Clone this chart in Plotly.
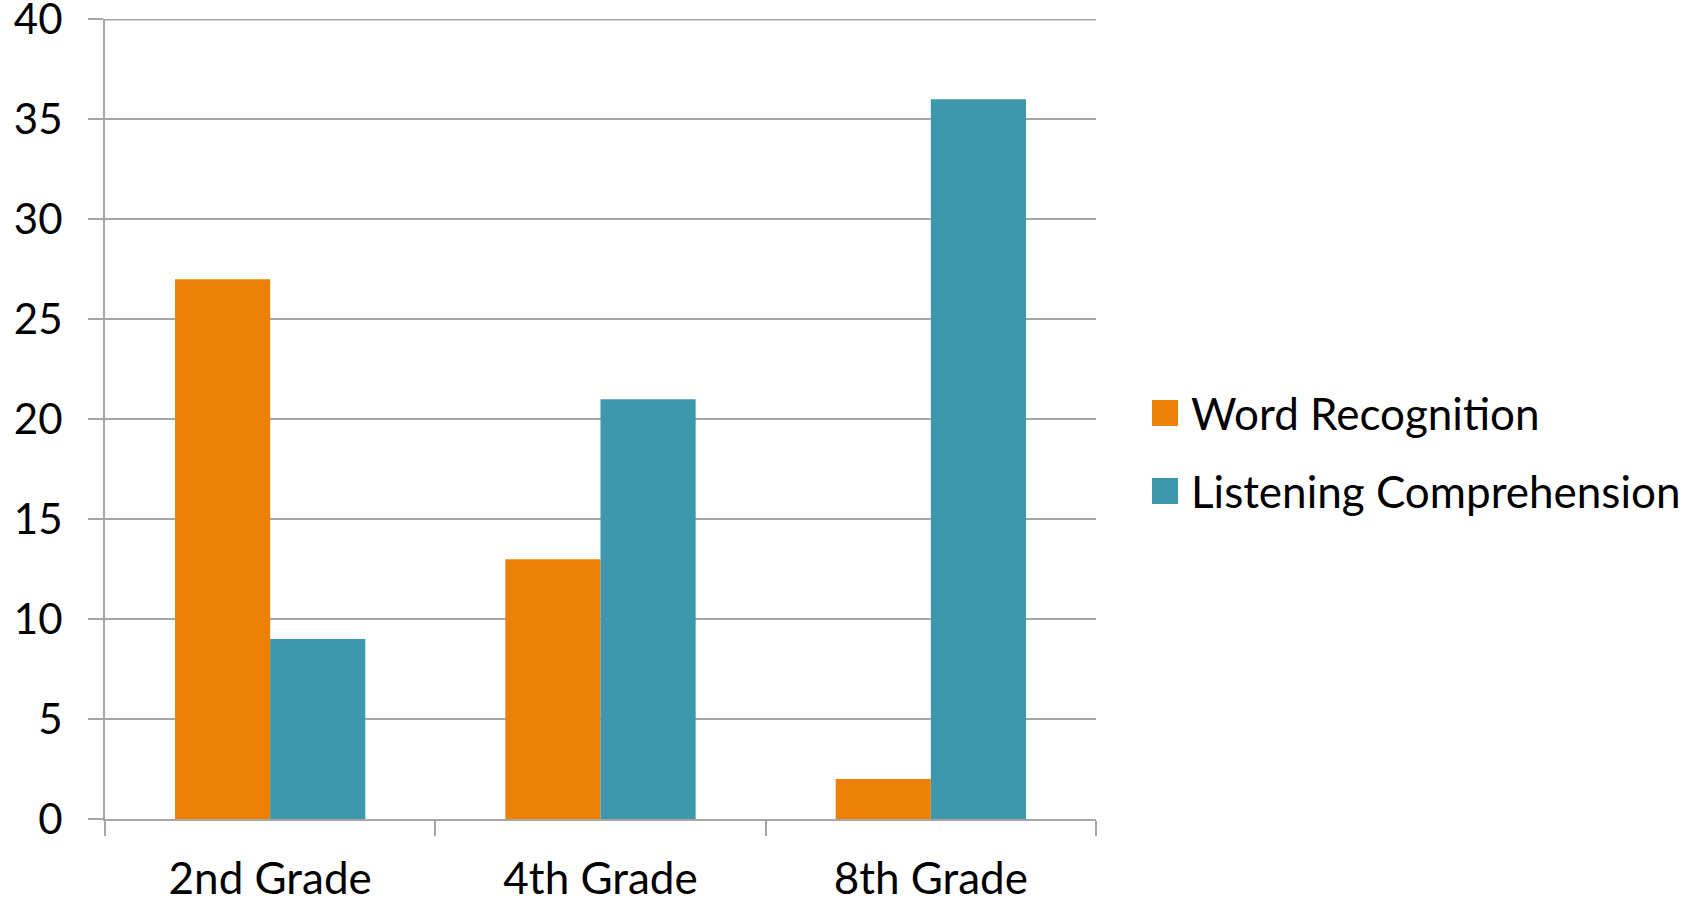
import plotly.graph_objects as go

# Chart data
grades = ["2nd Grade", "4th Grade", "8th Grade"]
word_recognition = [27, 13, 2]
listening_comprehension = [9, 21, 36]
series_names = ["Word Recognition", "Listening Comprehension"]
series_colors = ["#EB8106", "#3D97AD"]
y_ticks = [0, 5, 10, 15, 20, 25, 30, 35, 40]

W, H = 1704, 903
L, R, T, B = 105, 608, 19, 84
plot_w = W - L - R
plot_h = H - T - B

FONT = "Lato"
FS = 44
GRID = "#A6A6A6"

fig = go.Figure()
for name, vals, col in zip(series_names, [word_recognition, listening_comprehension], series_colors):
    fig.add_trace(go.Bar(x=grades, y=vals, name=name, marker=dict(color=col, line=dict(width=0)),
                         showlegend=False))

# Legend drawn as square swatches with labels to the right of the plot
legend_rows_px = [413, 491]
for name, col, ypx in zip(series_names, series_colors, legend_rows_px):
    x0 = (1152 - L) / plot_w
    x1 = (1178 - L) / plot_w
    yc = (H - B - ypx) / plot_h
    half = 13 / plot_h
    fig.add_shape(type="rect", xref="paper", yref="paper", x0=x0, x1=x1, y0=yc - half, y1=yc + half,
                  fillcolor=col, line=dict(width=0))
    fig.add_annotation(xref="paper", yref="paper", x=(1189 - L) / plot_w, y=yc, text=name,
                       showarrow=False, xanchor="left", yanchor="middle",
                       font=dict(family=FONT, size=FS, color="#000000"))

# Horizontal gridline at the top of the value range
fig.add_shape(type="line", xref="paper", yref="y", x0=0, x1=1, y0=y_ticks[-1], y1=y_ticks[-1],
              line=dict(color=GRID, width=2))

fig.update_layout(
    width=W, height=H,
    margin=dict(l=L, r=R, t=T, b=B, pad=0, autoexpand=False),
    paper_bgcolor="white", plot_bgcolor="white",
    barmode="group", bargap=0.424, bargroupgap=0,
    font=dict(family=FONT, size=FS, color="#000000"),
    xaxis=dict(
        type="category", showline=True, linecolor=GRID, linewidth=2, automargin=False,
        ticks="outside", ticklen=15, tickcolor=GRID, tickwidth=2, tickson="boundaries",
        showgrid=False, ticklabelstandoff=20, tickfont=dict(size=FS),
        ticklabeloverflow="allow",
    ),
    yaxis=dict(
        range=[0, 40.02], tickvals=y_ticks, showline=True, linecolor=GRID, linewidth=2,
        automargin=False,
        showgrid=True, gridcolor=GRID, gridwidth=2, zeroline=False,
        ticks="outside", ticklen=15, tickcolor=GRID, tickwidth=2,
        ticklabelstandoff=17, tickfont=dict(size=42), ticklabeloverflow="allow",
    ),
)

fig.write_html("out.html")
